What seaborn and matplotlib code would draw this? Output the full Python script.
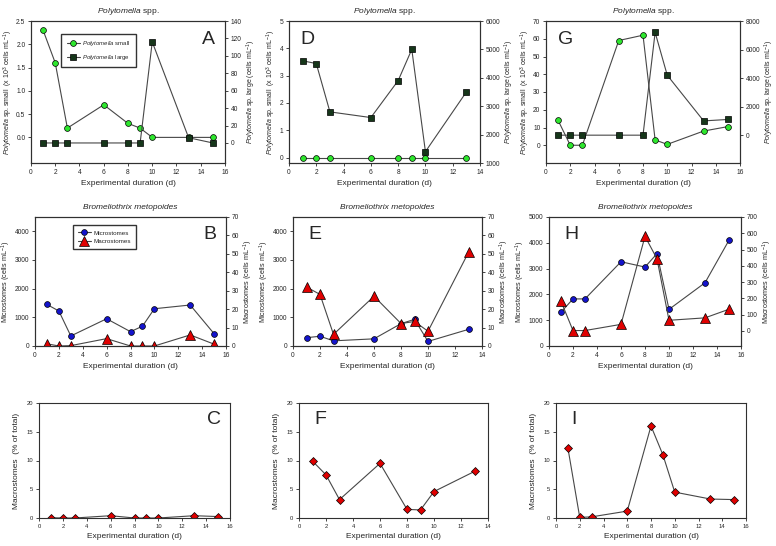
import numpy as np
import pandas as pd
import seaborn as sns
import matplotlib.pyplot as plt

# sampling days
days_a = [1, 2, 3, 6, 8, 9, 10, 13, 15]
days_d = [1, 2, 3, 6, 8, 9, 10, 13]

# Polytomella spp. (small: x10^3 cells/mL, large: cells/mL)
a_small = [2.3, 1.6, 0.2, 0.7, 0.3, 0.2, 0.0, 0.0, 0.0]
a_large = [0, 0, 0, 0, 0, 0, 116, 6, 0]
d_small = [0, 0, 0, 0, 0, 0, 0, 0]
d_large = [4600, 4500, 2800, 2600, 3900, 5000, 1400, 3500]
g_small = [14, 0, 0, 59, 62, 3, 0.5, 8, 10.5]
g_large = [0, 0, 0, 0, 0, 7200, 4200, 1000, 1100]

# Bromeliothrix metopoides (cells/mL)
b_micro = [1450, 1220, 350, 950, 500, 690, 1300, 1430, 430]
b_macro = [1.2, 0, 0.2, 4, 0, 0, 0, 6, 1]
e_micro = [290, 340, 180, 250, 780, 930, 160, 580]
e_macro = [32, 28, 6.3, 27, 12.2, 13.3, 8, 50.8]
h_micro = [1310, 1825, 1825, 3265, 3060, 3580, 1420, 2450, 4100]
h_macro = [182, 2, 2, 40, 581, 443, 65, 80, 133]

# Macrostomes (% of total)
c_pct = [0.05, 0, 0, 0.4, 0, 0, 0, 0.4, 0.25]
f_pct = [9.9, 7.5, 3.2, 9.5, 1.5, 1.4, 4.6, 8.1]
i_pct = [12.2, 0.1, 0.2, 1.2, 16, 11, 4.5, 3.3, 3.2]

sns.set_style('ticks')
plt.rcParams['font.family'] = ['Liberation Sans', 'DejaVu Sans']
plt.rcParams['mathtext.fontset'] = 'custom'
plt.rcParams['mathtext.rm'] = 'Liberation Sans'
plt.rcParams['mathtext.it'] = 'Liberation Sans:italic'

W, H = 776, 546
LINE = '#474747'
GREEN = '#2ee62e'
DARK = '#16361a'
BLUE = '#1414cc'
RED = '#e00000'

fig = plt.figure(figsize=(W / 100, H / 100), dpi=100)


def add_ax(l, t, r, b):
    return fig.add_axes([l / W, 1 - b / H, (r - l) / W, (b - t) / H])


def style_ax(ax, size=4.8):
    for sp in ax.spines.values():
        sp.set_visible(True)
        sp.set_linewidth(0.8)
        sp.set_color('#303030')
    ax.tick_params(direction='out', length=2.5, width=0.6, labelsize=size, pad=1.5)


def draw(ax, x, y, marker, color, ms):
    sns.lineplot(x=x, y=y, ax=ax, color=LINE, linewidth=0.8, marker=marker,
                 markerfacecolor=color, markeredgecolor='black', markeredgewidth=0.5,
                 markersize=ms)
    return ax.lines[-1]


def poly_panel(box, x, small, large, ylim, yticks, ylim2, yticks2, xmax, letter, lpos, legend=False):
    ax = add_ax(*box)
    ax2 = ax.twinx()
    h1 = draw(ax, x, small, 'o', GREEN, 4.2)
    h2 = draw(ax2, x, large, 's', DARK, 4)
    ax.set_xlim(0, xmax)
    ax.set_xticks(np.arange(0, xmax + 1, 2))
    ax.set_ylim(*ylim)
    ax.set_yticks(yticks)
    ax2.set_ylim(*ylim2)
    ax2.set_yticks(yticks2)
    if ylim[1] < 3:
        ax.set_yticklabels([f'{v:.1f}' for v in yticks])
    style_ax(ax)
    style_ax(ax2)
    ax.set_title(r'$\it{Polytomella}$ spp.', fontsize=6, pad=6)
    ax.set_xlabel('Experimental duration (d)', fontsize=6, labelpad=3)
    ax.set_ylabel(r'$\it{Polytomella}$ sp. small  (x 10$^3$ cells mL$^{-1}$)', fontsize=5, labelpad=1)
    ax2.set_ylabel(r'$\it{Polytomella}$ sp. large (cells mL$^{-1}$)', fontsize=5, labelpad=2)
    ax2.text(lpos[0], lpos[1], letter, transform=ax.transAxes, fontsize=14, va='top', ha='left')
    if legend:
        ax2.legend([h1, h2], [r'$\it{Polytomella}$ small', r'$\it{Polytomella}$ large'],
                   loc='upper left', bbox_to_anchor=(0.14, 0.93), fontsize=4.3, frameon=True,
                   fancybox=False, edgecolor='black', borderpad=0.9, labelspacing=0.8,
                   handlelength=2.2, handletextpad=0.4)
    return ax


def bromelio_panel(box, x, micro, macro, ylim, yticks, ylim2, yticks2, xmax, letter, lpos, legend=False):
    ax = add_ax(*box)
    ax2 = ax.twinx()
    h1 = draw(ax, x, micro, 'o', BLUE, 4.2)
    h2 = draw(ax2, x, macro, '^', RED, 7)
    ax.set_xlim(0, xmax)
    ax.set_xticks(np.arange(0, xmax + 1, 2))
    ax.set_ylim(*ylim)
    ax.set_yticks(yticks)
    ax2.set_ylim(*ylim2)
    ax2.set_yticks(yticks2)
    style_ax(ax)
    style_ax(ax2)
    ax.set_title('Bromeliothrix metopoides', fontsize=6, fontstyle='italic', pad=6)
    ax.set_xlabel('Experimental duration (d)', fontsize=6, labelpad=3)
    ax.set_ylabel(r'Microstomes (cells mL$^{-1}$)', fontsize=5.2, labelpad=1)
    ax2.set_ylabel(r'Macrostomes (cells mL$^{-1}$)', fontsize=5.2, labelpad=2)
    ax2.text(lpos[0], lpos[1], letter, transform=ax.transAxes, fontsize=14, va='top', ha='left')
    if legend:
        ax2.legend([h1, h2], ['Microstomes', 'Macrostomes'],
                   loc='upper left', bbox_to_anchor=(0.18, 0.96), fontsize=4.5, frameon=True,
                   fancybox=False, edgecolor='black', borderpad=0.8, labelspacing=0.5,
                   handlelength=2.2, handletextpad=0.4)
    return ax


def pct_panel(box, x, pct, xmax, letter, lpos):
    ax = add_ax(*box)
    draw(ax, x, pct, 'D', RED, 4.2)
    ax.set_xlim(0, xmax)
    ax.set_xticks(np.arange(0, xmax + 1, 2))
    ax.set_ylim(0, 20)
    ax.set_yticks([0, 5, 10, 15, 20])
    style_ax(ax, size=4.2)
    ax.set_xlabel('Experimental duration (d)', fontsize=6, labelpad=3)
    ax.set_ylabel('Macrostomes  (% of total)', fontsize=6, labelpad=5)
    ax.text(lpos[0], lpos[1], letter, transform=ax.transAxes, fontsize=14, va='top', ha='left')
    return ax


# top row
poly_panel((31, 21, 225, 163), days_a, a_small, a_large, (-0.55, 2.5), np.arange(0, 2.51, 0.5),
           (-23, 140), np.arange(0, 141, 20), 16, 'A', (0.88, 0.93), legend=True)
poly_panel((289, 21, 480, 163), days_d, d_small, d_large, (-0.2, 5), np.arange(0, 6, 1),
           (1000, 6000), np.arange(1000, 6001, 1000), 14, 'D', (0.06, 0.93))
poly_panel((546, 21, 740, 163), days_a, g_small, g_large, (-10, 70), np.arange(0, 71, 10),
           (-1950, 8000), np.arange(0, 8001, 2000), 16, 'G', (0.06, 0.93))

# middle row
bromelio_panel((35, 217, 226, 346), days_a, b_micro, b_macro, (0, 4500), np.arange(0, 4001, 1000),
               (0, 70), np.arange(0, 71, 10), 16, 'B', (0.88, 0.93), legend=True)
bromelio_panel((293, 217, 482, 346), days_d, e_micro, e_macro, (0, 4500), np.arange(0, 4001, 1000),
               (0, 70), np.arange(0, 71, 10), 14, 'E', (0.08, 0.93))
bromelio_panel((549, 217, 741, 346), days_a, h_micro, h_macro, (0, 5000), np.arange(0, 5001, 1000),
               (-93, 700), np.arange(0, 701, 100), 16, 'H', (0.08, 0.93))

# bottom row
pct_panel((39, 403, 230, 518), days_a, c_pct, 16, 'C', (0.88, 0.93))
pct_panel((299, 403, 488, 518), days_d, f_pct, 14, 'F', (0.08, 0.93))
pct_panel((556, 403, 746, 518), days_a, i_pct, 16, 'I', (0.08, 0.93))

fig.savefig('out.png', dpi=100)
